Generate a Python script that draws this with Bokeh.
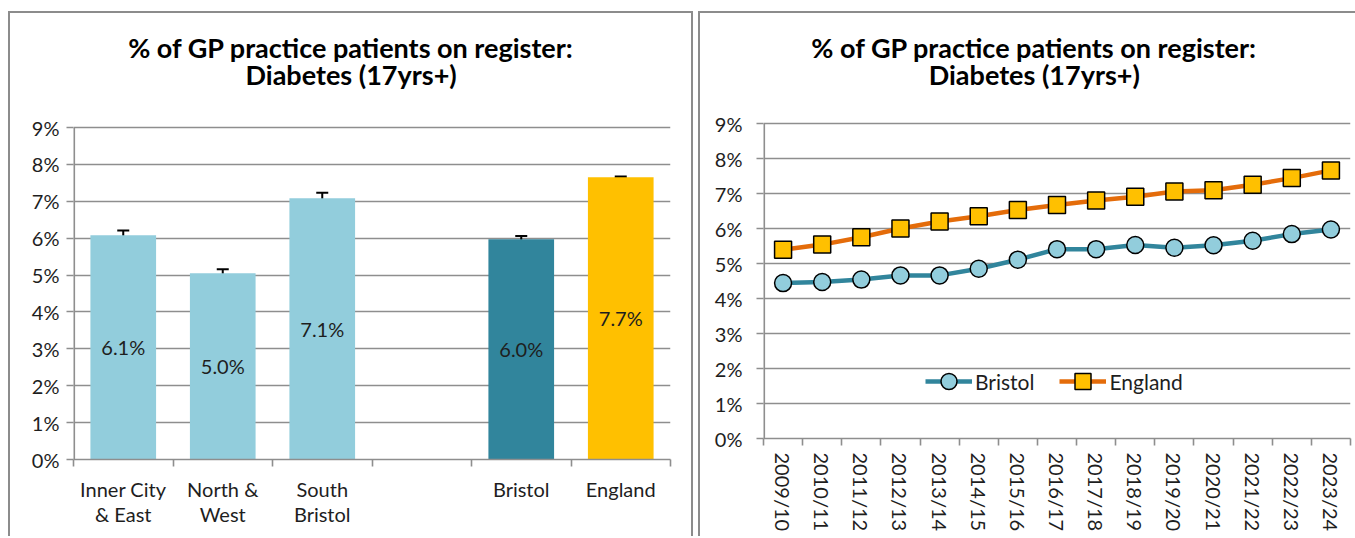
from bokeh.plotting import figure
from bokeh.layouts import row
from bokeh.models import (FixedTicker, PrintfTickFormatter, Whisker, ColumnDataSource,
                          Range1d, Legend, LegendItem, TeeHead)
from bokeh.embed import file_html
from bokeh.resources import INLINE
from bokeh.core.properties import value

FONT = "Lato"
TXT = "#1e1e1e"
GRID = "#8e8e8e"
BORDER = "#8c8c8c"

# ---------------- data ----------------
title_lines = ["% of GP practice patients on register:", "Diabetes (17yrs+)"]

areas = ["Inner City\n& East", "North &\nWest", "South\nBristol", " ", "Bristol", "England"]
bar_areas = ["Inner City\n& East", "North &\nWest", "South\nBristol", "Bristol", "England"]
bar_values = [6.08, 5.05, 7.08, 5.97, 7.65]
bar_lower = [5.95, 4.94, 6.93, 5.89, 7.63]
bar_upper = [6.21, 5.16, 7.23, 6.06, 7.67]
bar_labels = ["6.1%", "5.0%", "7.1%", "6.0%", "7.7%"]
bar_colors = ["#92CDDC", "#92CDDC", "#92CDDC", "#31859C", "#FFC000"]

years = ["2009/10", "2010/11", "2011/12", "2012/13", "2013/14", "2014/15", "2015/16",
         "2016/17", "2017/18", "2018/19", "2019/20", "2020/21", "2021/22", "2022/23", "2023/24"]
bristol = [4.44, 4.47, 4.54, 4.66, 4.66, 4.85, 5.11, 5.41, 5.41, 5.53, 5.45, 5.52, 5.65, 5.84, 5.97]
england = [5.39, 5.54, 5.75, 6.00, 6.20, 6.35, 6.53, 6.67, 6.80, 6.91, 7.06, 7.09, 7.25, 7.44, 7.66]

y_ticks = [0, 1, 2, 3, 4, 5, 6, 7, 8, 9]
y_max = 9


def add_titles(p, x, ys):
    # the chart title is written in the (empty) band above the 9% gridline
    p.text(x=[x, x], y=ys, text=title_lines, text_align="center", text_baseline="alphabetic",
           text_font=value(FONT), text_font_size="27px", text_font_style="bold",
           text_color="black")


def style_common(p):
    p.outline_line_color = None
    p.xgrid.grid_line_color = None
    p.ygrid.grid_line_color = GRID
    p.ygrid.grid_line_width = 1.6
    p.yaxis.ticker = FixedTicker(ticks=y_ticks)
    p.yaxis.formatter = PrintfTickFormatter(format="%d%%")
    for ax in (p.xaxis[0], p.yaxis[0]):
        ax.axis_line_color = GRID
        ax.axis_line_width = 1.6
        ax.major_label_text_font = FONT
        ax.major_label_text_font_size = "20px"
        ax.major_label_text_color = TXT
        ax.minor_tick_line_color = None
    # value axis spine only from 0% to 9%
    p.yaxis.axis_line_color = None
    p.segment(x0=[0], y0=[0], x1=[0], y1=[y_max], line_color=GRID, line_width=3.2)
    p.yaxis.major_tick_line_color = GRID
    p.yaxis.major_tick_line_width = 1.6
    p.yaxis.major_tick_in = 0
    p.yaxis.major_tick_out = 7
    p.xaxis.major_tick_line_color = None
    p.xaxis.minor_tick_line_color = GRID
    p.xaxis.minor_tick_line_width = 1.6
    p.xaxis.minor_tick_in = 0
    p.xaxis.minor_tick_out = 7


# ---------------- left: bar chart ----------------
p1 = figure(width=685, height=525, output_backend="svg", toolbar_location=None,
            x_range=Range1d(0, len(areas)), y_range=Range1d(0, y_max * 446 / 332),
            min_border_left=63, min_border_right=25, min_border_top=0, min_border_bottom=79,
            margin=(11, 5, 0, 8), frame_align=False,
            styles={"border-top": f"2px solid {BORDER}", "border-left": f"2px solid {BORDER}",
                    "border-right": f"2px solid {BORDER}"})
style_common(p1)
add_titles(p1, 2.79, [11.17, 10.44])

bx = [areas.index(a) + 0.5 for a in bar_areas]
src = ColumnDataSource(dict(x=bx, top=bar_values, lower=bar_lower, upper=bar_upper,
                            color=bar_colors, label=bar_labels,
                            mid=[v / 2 for v in bar_values]))
p1.vbar(x="x", top="top", width=0.66, bottom=0, fill_color="color", line_color=None, source=src)
wh = Whisker(base="x", lower="lower", upper="upper", source=src, line_color="black", line_width=2,
             upper_head=TeeHead(size=12, line_width=2, line_color="black"),
             lower_head=TeeHead(size=12, line_width=2, line_color="black"))
p1.add_layout(wh)
p1.text(x="x", y="mid", text="label", source=src, text_align="center", text_baseline="middle",
        text_font=value(FONT), text_font_size="20px", text_color=TXT)

p1.xaxis.ticker = FixedTicker(ticks=[i + 0.5 for i in range(len(areas))],
                              minor_ticks=list(range(len(areas) + 1)))
p1.xaxis.major_label_overrides = {i + 0.5: a for i, a in enumerate(areas)}
p1.xaxis.major_label_text_line_height = 1.06
p1.xaxis.major_label_standoff = 10
p1.yaxis.major_label_standoff = 7

# ---------------- right: line chart ----------------
p2 = figure(width=658, height=525, output_backend="svg", toolbar_location=None,
            x_range=Range1d(0, len(years)), y_range=Range1d(0, y_max * 425 / 315),
            min_border_left=63, min_border_right=8, min_border_top=0, min_border_bottom=100,
            margin=(11, 0, 0, 0), frame_align=False,
            styles={"border-top": f"2px solid {BORDER}", "border-left": f"2px solid {BORDER}"})
style_common(p2)
add_titles(p2, 6.92, [11.17, 10.40])

lx = [i + 0.5 for i in range(len(years))]
r1 = p2.line(lx, bristol, line_color="#31859C", line_width=4.5)
r2 = p2.scatter(lx, bristol, marker="circle", size=17, fill_color="#92CDDC",
                line_color="black", line_width=1.5)
r3 = p2.line(lx, england, line_color="#E46C0A", line_width=4.5)
r4 = p2.scatter(lx, england, marker="square", size=17, fill_color="#FFC000",
                line_color="black", line_width=1.5)

p2.xaxis.ticker = FixedTicker(ticks=lx, minor_ticks=list(range(len(years) + 1)))
p2.xaxis.major_label_overrides = {x: y for x, y in zip(lx, years)}
p2.xaxis.major_label_orientation = "vertical"
p2.xaxis.major_label_text_font_size = "20px"
p2.xaxis.major_label_standoff = 7
p2.yaxis.major_label_standoff = 14

legend = Legend(items=[LegendItem(label="Bristol", renderers=[r1, r2]),
                       LegendItem(label="England", renderers=[r3, r4])],
                orientation="horizontal", location=(162, 37),
                glyph_width=47, glyph_height=40, spacing=25, padding=0, margin=0,
                label_standoff=3, label_text_font=FONT, label_text_font_size="21px",
                label_text_color=TXT, background_fill_alpha=0, border_line_color=None)
p2.add_layout(legend)

layout = row(p1, p2)
open("out.html", "w").write(file_html(layout, INLINE))
